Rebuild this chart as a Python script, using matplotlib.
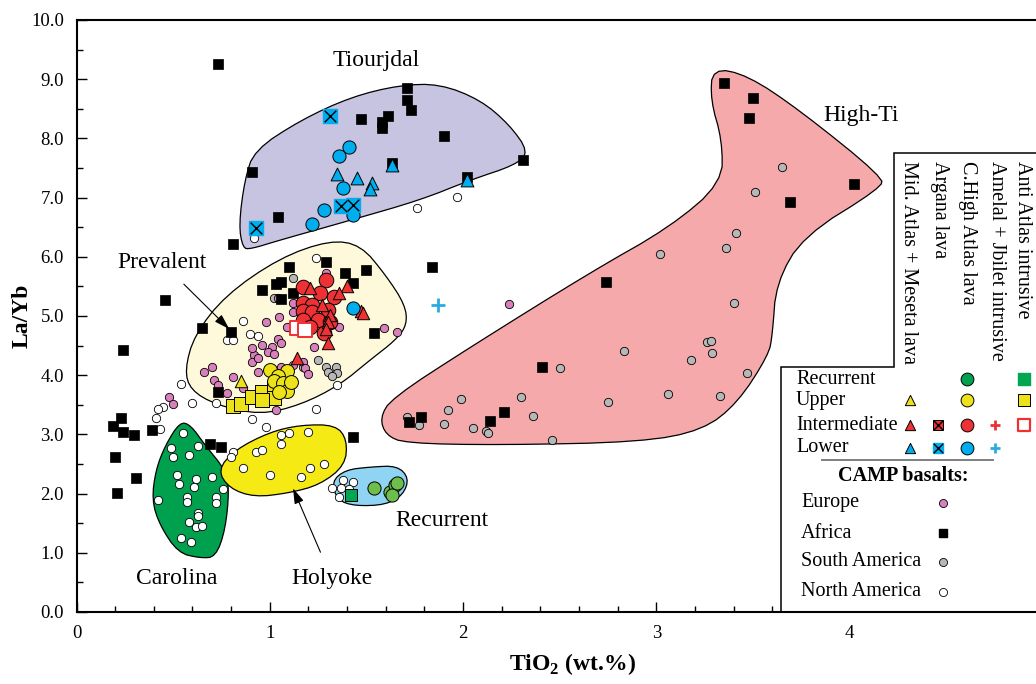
import matplotlib
matplotlib.use("Agg")
import matplotlib.pyplot as plt
import numpy as np
from matplotlib.patches import Polygon
from matplotlib.ticker import MultipleLocator, FormatStrFormatter

plt.rcParams['font.family'] = ['Liberation Serif', 'DejaVu Serif']
plt.rcParams['mathtext.fontset'] = 'custom'
plt.rcParams['mathtext.rm'] = 'Liberation Serif'
plt.rcParams['mathtext.bf'] = 'Liberation Serif:bold'

# ---- field envelopes (TiO2, La/Yb) ----
tiourjdal = [(0.86, 6.15), (0.84, 6.54), (0.87, 7.30), (0.92, 7.80), (1.16, 8.31), (1.42, 8.70),
             (1.67, 8.90), (1.88, 8.92), (2.09, 8.65), (2.24, 8.23), (2.34, 7.77), (2.27, 7.55),
             (2.04, 7.30), (1.78, 6.96), (1.42, 6.62), (1.05, 6.28), (0.90, 6.13)]
prevalent = [(0.56, 4.09), (0.61, 4.68), (0.77, 5.35), (1.05, 5.98), (1.31, 6.28), (1.47, 6.20),
             (1.60, 5.69), (1.70, 5.19), (1.71, 4.85), (1.65, 4.59), (1.52, 4.26), (1.36, 3.83),
             (1.16, 3.50), (0.95, 3.33), (0.72, 3.50), (0.59, 3.75)]
carolina = [(0.535, 3.21), (0.46, 2.82), (0.41, 2.40), (0.39, 1.89), (0.43, 1.47), (0.525, 1.00),
            (0.64, 0.91), (0.72, 0.93), (0.77, 1.39), (0.79, 2.06), (0.77, 2.40), (0.665, 2.82),
            (0.59, 3.16)]
holyoke = [(0.73, 2.40), (0.82, 2.74), (1.00, 3.04), (1.16, 3.16), (1.34, 3.16), (1.40, 2.91),
           (1.39, 2.48), (1.26, 2.15), (1.10, 2.01), (0.92, 1.94), (0.79, 2.09)]
recurrent = [(1.32, 2.20), (1.39, 2.40), (1.52, 2.45), (1.66, 2.47), (1.72, 2.26), (1.69, 1.98),
             (1.60, 1.81), (1.44, 1.79), (1.35, 1.89)]
high_ti = [(1.57, 3.28), (1.63, 3.61), (2.04, 4.48), (2.66, 5.74), (3.07, 6.50), (3.34, 7.25),
           (3.34, 7.97), (3.28, 8.65), (3.29, 9.19), (3.47, 9.07), (3.74, 8.48), (4.17, 7.35),
           (4.16, 7.16), (3.76, 6.35), (3.62, 5.56), (3.60, 4.68), (3.58, 4.34), (3.42, 3.53),
           (3.24, 3.07), (2.92, 2.87), (2.19, 2.82), (1.70, 2.85), (1.60, 2.99)]

# ---- CAMP basalts ----
africa_x = [0.73, 0.91, 1.04, 0.81, 1.71, 1.71, 1.73, 1.47, 1.61, 1.58, 1.58, 1.90, 2.31,
            3.35, 3.50, 3.48, 4.02, 3.69, 2.74, 2.41, 2.21, 2.14, 1.78, 1.72, 1.84, 1.54,
            1.43, 0.23, 0.19, 0.24, 0.30, 0.39, 0.20, 0.31, 0.21, 0.69, 0.75, 0.24, 0.46,
            0.65, 0.80, 1.10, 1.29, 1.39, 1.50, 1.43, 0.96, 1.03, 1.06, 1.06, 1.12, 0.73,
            1.63, 2.02]
africa_y = [9.26, 7.43, 6.67, 6.22, 8.85, 8.65, 8.48, 8.33, 8.38, 8.28, 8.18, 8.04, 7.64,
            8.94, 8.68, 8.35, 7.23, 6.93, 5.57, 4.14, 3.38, 3.23, 3.29, 3.21, 5.83, 4.71,
            2.96, 3.28, 3.14, 3.04, 2.99, 3.07, 2.62, 2.26, 2.01, 2.84, 2.79, 4.43, 5.27,
            4.80, 4.73, 5.83, 5.91, 5.73, 5.78, 5.56, 5.44, 5.54, 5.57, 5.29, 5.39, 3.72,
            7.58, 7.35]

europe_x = [0.98, 1.04, 1.06, 0.96, 1.01, 0.99, 1.02, 0.92, 0.91, 0.94, 1.17, 0.66, 0.70,
            0.94, 0.81, 0.71, 0.73, 1.12, 1.06, 1.18, 0.78, 0.86, 1.03, 1.04, 1.29, 1.05,
            1.09, 1.23, 1.36, 1.59, 1.66, 1.20, 0.91, 0.48, 0.50, 2.24, 1.12, 1.12]
europe_y = [4.90, 4.61, 4.54, 4.51, 4.48, 4.39, 4.36, 4.34, 4.22, 4.29, 4.22, 4.05, 4.14,
            4.05, 3.97, 3.92, 3.83, 4.17, 4.14, 4.12, 3.70, 3.78, 3.41, 5.30, 5.73, 4.98,
            4.81, 4.48, 4.81, 4.80, 4.73, 4.02, 4.46, 3.63, 3.51, 5.20, 5.22, 5.07]

s_america_x = [1.17, 1.25, 1.29, 1.34, 1.30, 1.35, 1.32, 1.12, 1.02,
               3.65, 3.51, 3.41, 3.36, 3.02, 3.40, 2.83, 3.26, 3.28, 3.29, 3.18, 3.47, 3.06,
               3.33, 2.75, 2.50, 2.30, 2.36, 1.99, 1.92, 1.90, 2.05, 2.12, 2.13, 2.46, 1.71,
               1.77]
s_america_y = [4.14, 4.26, 4.14, 4.14, 4.05, 4.04, 3.99, 5.64, 5.30,
               7.52, 7.09, 6.40, 6.15, 6.05, 5.22, 4.41, 4.56, 4.58, 4.38, 4.26, 4.04, 3.68,
               3.65, 3.55, 4.12, 3.63, 3.31, 3.60, 3.41, 3.18, 3.11, 3.06, 3.02, 2.91, 3.29,
               3.16]

n_america_x = [0.55, 0.49, 0.50, 0.58, 0.63, 0.52, 0.62, 0.53, 0.61, 0.70, 0.76, 0.42, 0.57,
               0.57, 0.72, 0.72, 0.63, 0.63, 0.58, 0.62, 0.65, 0.54, 0.59,
               0.81, 0.80, 0.93, 0.96, 1.06, 1.10, 1.06, 1.20, 0.86, 1.00, 1.16, 1.21, 1.28,
               1.32, 1.38, 1.43, 1.37, 1.41, 1.36,
               0.54, 0.60, 0.72, 0.45, 0.42, 0.41, 0.43, 0.91, 0.98, 1.24, 1.35, 0.92, 1.76,
               1.97, 1.24, 0.86, 0.78, 0.81, 0.90, 0.94]
n_america_y = [3.02, 2.77, 2.62, 2.65, 2.80, 2.31, 2.25, 2.16, 2.11, 2.28, 2.08, 1.89, 1.94,
               1.86, 1.94, 1.84, 1.67, 1.62, 1.52, 1.44, 1.45, 1.25, 1.18,
               2.70, 2.62, 2.70, 2.74, 2.99, 3.02, 2.84, 3.04, 2.43, 2.31, 2.28, 2.43, 2.50,
               2.09, 2.23, 2.20, 2.09, 2.08, 1.94,
               3.85, 3.53, 3.53, 3.46, 3.43, 3.28, 3.09, 3.26, 3.13, 3.43, 3.83, 6.32, 6.82,
               7.01, 5.98, 4.92, 4.59, 4.60, 4.70, 4.66]

# ---- Moroccan CAMP units ----
lower_circ_x = [1.41, 1.36, 1.38, 1.28, 1.22, 1.43, 1.43]
lower_circ_y = [7.86, 7.70, 7.16, 6.79, 6.55, 6.71, 5.14]
lower_tri_x = [1.35, 1.45, 1.63, 1.53, 1.52, 2.02]
lower_tri_y = [7.40, 7.33, 7.55, 7.25, 7.15, 7.30]
lower_xsq_x = [1.31, 0.93, 1.37, 1.43]
lower_xsq_y = [8.38, 6.49, 6.86, 6.88]
lower_plus_x = [1.87]
lower_plus_y = [5.19]

inter_circ_x = [1.17, 1.29, 1.26, 1.33, 1.17, 1.22, 1.17, 1.22, 1.30, 1.25, 1.17, 1.28, 1.21, 1.31]
inter_circ_y = [5.49, 5.61, 5.39, 5.32, 5.22, 5.19, 5.08, 5.07, 5.10, 4.93, 4.93, 4.71, 4.81, 4.90]
inter_tri_x = [1.21, 1.40, 1.47, 1.48, 1.31, 1.30, 1.29, 1.30, 1.14, 1.36, 1.27]
inter_tri_y = [5.47, 5.51, 5.08, 5.05, 5.02, 4.90, 4.78, 4.54, 4.29, 5.39, 5.19]
inter_sq_x = [1.14, 1.18]
inter_sq_y = [4.80, 4.76]

upper_tri_x = [0.85]
upper_tri_y = [3.90]
upper_circ_x = [1.00, 1.09, 1.04, 1.02, 1.07, 1.09, 1.05, 1.11]
upper_circ_y = [4.09, 4.07, 3.99, 3.90, 3.87, 3.73, 3.72, 3.89]
upper_sq_x = [0.81, 0.85, 0.91, 0.96, 1.02, 1.02, 0.96]
upper_sq_y = [3.48, 3.51, 3.63, 3.72, 3.78, 3.61, 3.58]

recur_circ_x = [1.54, 1.62, 1.65, 1.63, 1.66]
recur_circ_y = [2.09, 2.03, 2.15, 1.98, 2.18]
recur_sq_x = [1.42]
recur_sq_y = [1.97]

x_ticks = [0, 1, 2, 3, 4]

# colours
LAV, PALE, CARO, HOLY, RECBG, HITI = '#c7c4e1', '#fdf9da', '#00a14e', '#f6ea14', '#8fd4f2', '#f5a9ab'
PINK, GREY = '#d880bb', '#b7b7b7'
BLUE, RED, YEL, GRN, GRNSQ, LBLUE = '#00aeef', '#ee3134', '#ede21a', '#6dbe4b', '#00a651', '#29abe2'


def chaikin(pts, n=2):
    p = np.asarray(pts, float)
    for _ in range(n):
        q = np.roll(p, -1, axis=0)
        a = 0.75 * p + 0.25 * q
        b = 0.25 * p + 0.75 * q
        p = np.empty((2 * len(a), 2))
        p[0::2] = a
        p[1::2] = b
    return p


fig = plt.figure(figsize=(10.36, 6.84), dpi=100)
ax = fig.add_axes([76.5 / 1036, 72 / 684, (1043 - 76.5) / 1036, 592 / 684])
ax.set_xlim(0, 5)
ax.set_ylim(0, 10)

for pts, col in [(tiourjdal, LAV), (prevalent, PALE), (carolina, CARO), (holyoke, HOLY),
                 (recurrent, RECBG), (high_ti, HITI)]:
    ax.add_patch(Polygon(chaikin(pts), closed=True, facecolor=col, edgecolor='black',
                         linewidth=0.9, zorder=1))

small = dict(edgecolors='black', linewidths=0.6, zorder=2)
ax.scatter(s_america_x, s_america_y, s=36, facecolor=GREY, **small)
ax.scatter(n_america_x, n_america_y, s=36, facecolor='white', **small)
ax.scatter(europe_x, europe_y, s=36, facecolor=PINK, **small)
ax.scatter(africa_x, africa_y, s=42, marker='s', facecolor='black', edgecolors='black',
           linewidths=0.5, zorder=2.05)

big = dict(edgecolors='black', linewidths=0.7, zorder=2.2)
ax.scatter(upper_sq_x, upper_sq_y, s=100, marker='s', facecolor=YEL, **big)
ax.scatter(upper_circ_x, upper_circ_y, s=100, facecolor=YEL, **big)
ax.scatter(upper_tri_x, upper_tri_y, s=80, marker='^', facecolor=YEL, **big)
ax.scatter(inter_circ_x, inter_circ_y, s=110, facecolor=RED, **big)
ax.scatter(inter_tri_x, inter_tri_y, s=80, marker='^', facecolor=RED, **big)
ax.scatter(inter_sq_x, inter_sq_y, s=90, marker='s', facecolor='white', edgecolors=RED,
           linewidths=1.4, zorder=2.2)
ax.scatter(lower_circ_x, lower_circ_y, s=90, facecolor=BLUE, **big)
ax.scatter(lower_tri_x, lower_tri_y, s=85, marker='^', facecolor=BLUE, **big)
ax.scatter(lower_xsq_x, lower_xsq_y, s=90, marker='s', facecolor=BLUE, edgecolors=BLUE, zorder=2.2)
ax.scatter(lower_xsq_x, lower_xsq_y, s=70, marker='x', color='black', linewidths=1.0, zorder=2.25)
ax.scatter(lower_plus_x, lower_plus_y, s=90, marker='+', color=LBLUE, linewidths=2, zorder=2.2)
ax.scatter(recur_circ_x, recur_circ_y, s=90, facecolor=GRN, **big)
ax.scatter(recur_sq_x, recur_sq_y, s=80, marker='s', facecolor=GRNSQ, **big)

# field labels
lab = dict(fontsize=17, ha='center', va='center', zorder=3)
ax.text(1.55, 9.32, 'Tiourjdal', **lab)
ax.text(4.06, 8.38, 'High-Ti', **lab)
ax.text(0.52, 0.57, 'Carolina', **lab)
ax.text(1.89, 1.55, 'Recurrent', **lab)
arr = dict(arrowstyle='-|>,head_length=0.55,head_width=0.17', color='black', lw=0.8)
ax.annotate('Prevalent', xy=(0.79, 4.78), xytext=(0.44, 5.91), arrowprops=dict(arr, shrinkA=9, shrinkB=0),
            **lab)
ax.annotate('Holyoke', xy=(1.12, 2.09), xytext=(1.32, 0.57), arrowprops=dict(arr, shrinkA=10, shrinkB=0),
            **lab)

# axes styling
ax.set_xticks(x_ticks)
ax.xaxis.set_minor_locator(MultipleLocator(0.2))
ax.yaxis.set_major_locator(MultipleLocator(1))
ax.yaxis.set_minor_locator(MultipleLocator(0.5))
ax.yaxis.set_major_formatter(FormatStrFormatter('%.1f'))
ax.xaxis.set_major_formatter(FormatStrFormatter('%d'))
ax.tick_params(which='both', direction='in', width=1.0, labelsize=13.5, top=False, right=False)
ax.tick_params(which='major', length=7, pad=9)
ax.tick_params(which='minor', length=4)
for sp in ax.spines.values():
    sp.set_linewidth(1.5)
ax.set_xlabel(r'TiO$_{\mathbf{2}}$ (wt.%)', fontsize=17, fontweight='bold')
ax.set_ylabel('La/Yb', fontsize=17, fontweight='bold')
ax.xaxis.set_label_coords(0.513, -0.066)
ax.yaxis.set_label_coords(-0.045, 0.5)

# ---- legend box ----
def fp(px, py):
    return px / 1036, 1 - py / 684


frame = [fp(781, 612), fp(781, 367), fp(894, 367), fp(894, 153), fp(1045, 153), fp(1045, 612)]
ax.add_patch(Polygon(frame, closed=True, transform=fig.transFigure, facecolor='white',
                     edgecolor='black', linewidth=1.1, clip_on=False, zorder=2.4))

heads = [(908, 'Mid. Atlas + Meseta lava'), (939, 'Argana lava'), (967, 'C.High Atlas lava'),
         (996, 'Amelal + Jbilet intrusive'), (1023, 'Anti Atlas intrusive')]
for px, t in heads:
    fig.text(*fp(px, 161), t, rotation=270, ha='center', va='top', fontsize=14.5, zorder=5)

rows = [(379, 'Recurrent'), (400, 'Upper'), (425, 'Intermediate'), (448, 'Lower')]
for py, t in rows:
    fig.text(*fp(796, py), t, ha='left', va='center', fontsize=14.5, zorder=5)

L = dict(transform=fig.transFigure, clip_on=False, zorder=5)


def lm(px, py, **kw):
    x, y = fp(px, py)
    ax.scatter([x], [y], **kw, **L)


edge = dict(edgecolors='black', linewidths=0.7)
lm(910, 400, s=55, marker='^', facecolor=YEL, **edge)
lm(910, 425, s=55, marker='^', facecolor=RED, **edge)
lm(910, 448, s=55, marker='^', facecolor=BLUE, **edge)
lm(938, 425, s=60, marker='s', facecolor=RED, **edge)
lm(938, 425, s=45, marker='x', color='black', linewidths=1.0)
lm(938, 448, s=60, marker='s', facecolor=BLUE, edgecolors=BLUE)
lm(938, 448, s=45, marker='x', color='black', linewidths=1.0)
lm(967, 379, s=85, facecolor=CARO, **edge)
lm(967, 400, s=85, facecolor=YEL, **edge)
lm(967, 425, s=85, facecolor=RED, **edge)
lm(967, 448, s=85, facecolor=BLUE, **edge)
lm(995, 425, s=60, marker='+', color=RED, linewidths=2)
lm(995, 448, s=60, marker='+', color=LBLUE, linewidths=2)
lm(1024, 379, s=85, marker='s', facecolor=GRNSQ, edgecolors=GRNSQ)
lm(1024, 400, s=85, marker='s', facecolor=YEL, **edge)
lm(1024, 425, s=70, marker='s', facecolor='white', edgecolors=RED, linewidths=1.6)

x0, y0 = fp(822, 460)
x1, _ = fp(993, 460)
fig.add_artist(plt.Line2D([x0, x1], [y0, y0], color='#7f7f7f', lw=1.4, zorder=5))
fig.text(*fp(903, 476), 'CAMP basalts:', ha='center', va='center', fontsize=14.5,
         fontweight='bold', zorder=5)

camp = [(503, 'Europe', PINK), (533, 'Africa', 'black'), (562, 'South America', GREY),
        (592, 'North America', 'white')]
for py, t, c in camp:
    fig.text(*fp(801, py), t, ha='left', va='center', fontsize=14.5, zorder=5)
    if t == 'Africa':
        lm(943, py, s=40, marker='s', facecolor='black', edgecolors='black')
    else:
        lm(943, py, s=34, facecolor=c, edgecolors='black', linewidths=0.6)

fig.savefig('out.png', dpi=100)
